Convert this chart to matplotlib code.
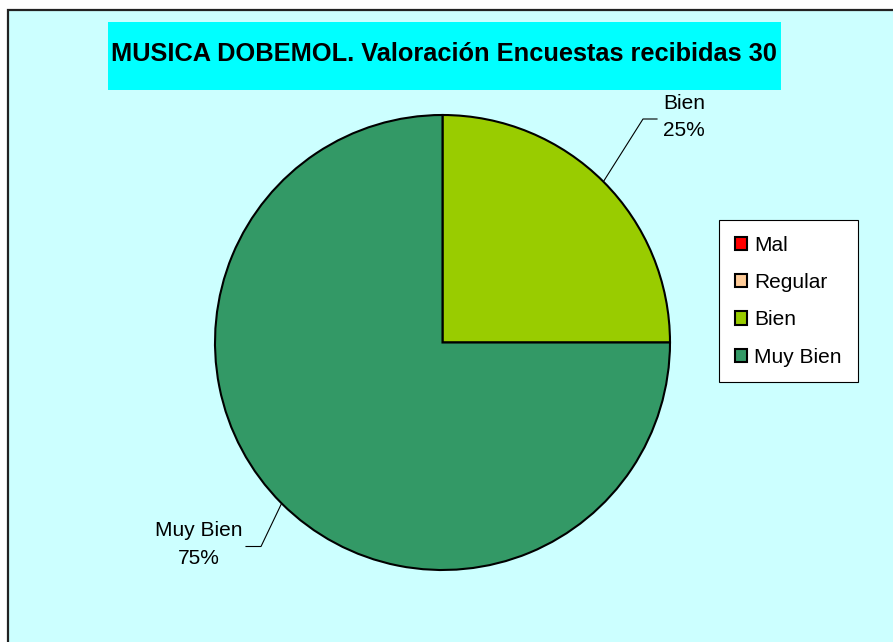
import matplotlib.pyplot as plt
from matplotlib.patches import Rectangle

# data
categories = ['Mal', 'Regular', 'Bien', 'Muy Bien']
values = [0, 0, 25, 75]
colors = ['#FF0000', '#FFCC99', '#99CC00', '#339966']
title = 'MUSICA DOBEMOL. Valoración Encuestas recibidas 30'

W, H = 893, 642
plt.rcParams['font.family'] = ['Liberation Sans', 'DejaVu Sans']

fig = plt.figure(figsize=(W / 100, H / 100), dpi=100, facecolor='white')

def fx(px):
    return px / W

def fy(py):
    return 1 - py / H

# chart area background + border
bg = Rectangle((fx(8), fy(H + 20)), fx(W + 20), (H + 10) / H,
               transform=fig.transFigure, facecolor='#CCFFFF',
               edgecolor='#222222', linewidth=1.6, zorder=-2)
fig.add_artist(bg)
# title box
tb = Rectangle((fx(108), fy(90)), fx(781 - 108), (90 - 22) / H,
               transform=fig.transFigure, facecolor='#00FFFF',
               edgecolor='none', zorder=-1)
fig.add_artist(tb)
fig.text(fx(443.5), fy(61), title, ha='center', va='baseline',
         fontsize=18.3, fontweight='bold')

# pie axes: centre (442.5, 342.5), radius 227.5 px
cx, cy, r = 442.5, 342.5, 227.5
ax = fig.add_axes([fx(cx - r), fy(cy + r), 2 * r / W, 2 * r / H])
ax.set_zorder(2)
ax.patch.set_visible(False)
wedges, _ = ax.pie(values, colors=colors, startangle=90, counterclock=False,
                   radius=1, wedgeprops=dict(edgecolor='black', linewidth=1.5))
ax.set_xlim(-1, 1)
ax.set_ylim(-1, 1)
ax.set_aspect('auto')
ax.axis('off')

def d(px, py):
    return ((px - cx) / r, (cy - py) / r)

# leader lines and labels (pixel positions)
total = sum(values)
label_pos = {'Bien': [(603.4, 181.6), (643, 119), (657, 119), 684, 109, 136.5],
             'Muy Bien': [(281.6, 503.4), (261, 546.5), (246, 546.5), 199, 536.5, 564]}
for cat, val in zip(categories, values):
    if val == 0:
        continue
    p0, p1, p2, tx, b1, b2 = label_pos[cat]
    xs, ys = zip(d(*p0), d(*p1), d(*p2))
    ax.plot(xs, ys, color='black', linewidth=0.8, clip_on=False)
    pct = round(val / total * 100)
    ax.text(*d(tx, b1), cat, ha='center', va='baseline', fontsize=15)
    ax.text(*d(tx, b2), f'{pct}%', ha='center', va='baseline', fontsize=15)

leg = fig.legend(wedges, categories, loc='upper left',
                 bbox_to_anchor=(fx(719), fy(220)), fontsize=15,
                 frameon=True, fancybox=False, framealpha=1,
                 edgecolor='black', facecolor='white',
                 handlelength=0.6, handleheight=0.6, handletextpad=0.35,
                 labelspacing=0.88, borderpad=0.75, borderaxespad=0)
leg.set_zorder(3)
leg.get_frame().set_linewidth(0.8)

fig.savefig('out.png', dpi=100, facecolor=fig.get_facecolor())
